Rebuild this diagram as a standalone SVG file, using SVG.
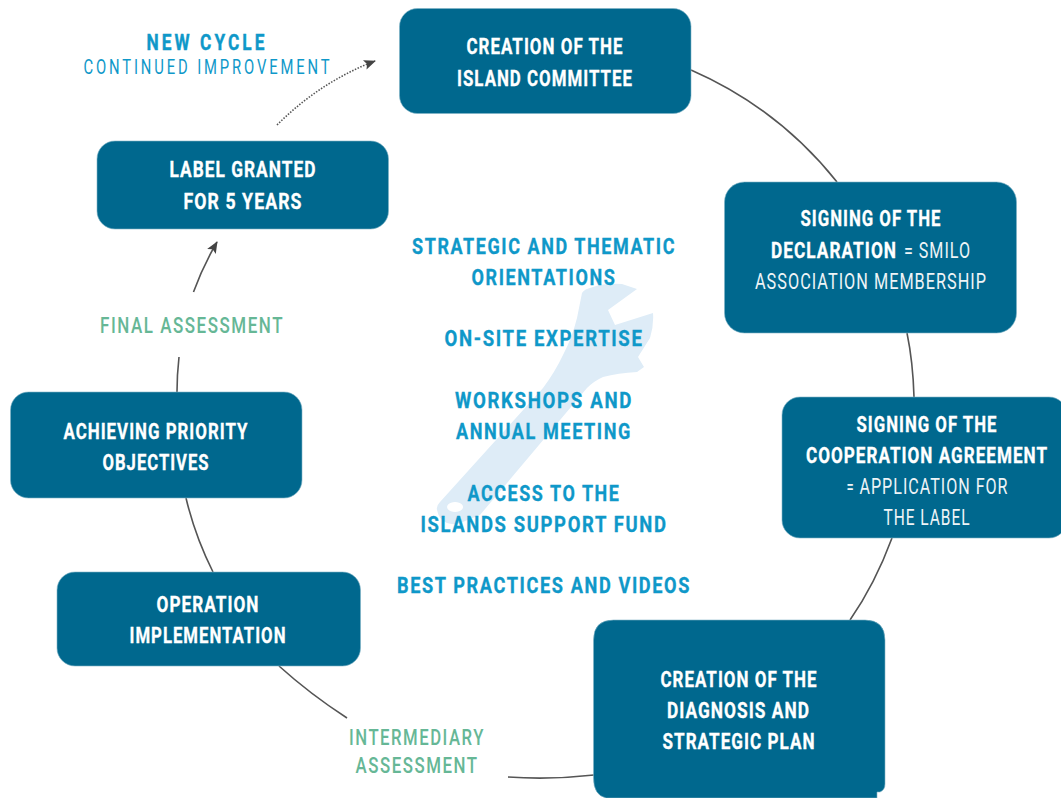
<svg xmlns="http://www.w3.org/2000/svg" width="1061" height="798" viewBox="0 0 1061 798">
<style>
text{font-family:Roboto,"Liberation Sans",sans-serif;text-anchor:middle}
.b{fill:#00688e;stroke:#7fb4c6;stroke-width:.6}
.w{fill:#fff;stroke:#fff;stroke-width:.25;font-size:16.800px;font-weight:700;letter-spacing:1px}
.l{fill:#eef4f7;font-size:16.200px;letter-spacing:1px}
.c{fill:#0f98c9;stroke:#0f98c9;stroke-width:.25;font-size:17px;font-weight:700;letter-spacing:1.500px}
.g{fill:#66b796;font-size:16.500px;font-weight:500;letter-spacing:1.500px}
.n{fill:#0f98c9;stroke:#0f98c9;stroke-width:.3;font-size:17px;font-weight:700;letter-spacing:3px}
.s{fill:#0f98c9;font-size:15.500px;letter-spacing:3px}
.k{fill:none;stroke:#555;stroke-width:1.600}
</style>
<defs><marker id="a" viewBox="0 0 12 10" refX="11" refY="5" markerWidth="12" markerHeight="10" markerUnits="userSpaceOnUse" orient="auto"><path d="M0 0L12 5L0 10L2.500 5Z" fill="#444"/></marker></defs>
<path id="wrench" fill="#deecf7" fill-rule="evenodd" d="M637 289L622 284Q605 283 593 287Q584 289 582 293L577 318Q572 338 563 355Q555 372 543 388L440 502Q436 506 437 510Q439 520 447 523Q456 526 465 521L480 515L587 388Q594 381 603 377Q618 373 637 372L644 367L638 357L650 338Q654 325 653 313L615 325L608 310ZM455 502a8 5 0 1 0 .1 0Z"/>
<g id="connectors">
<path class="k" d="M691 70Q778 108 837 182"/>
<path class="k" d="M907 333Q913 362 914 397"/>
<path class="k" d="M892 538Q875 584 850 620"/>
<path class="k" d="M594 775Q550 780 508 777"/>
<path class="k" d="M347 718Q310 694 279 666"/>
<path class="k" d="M213 572Q195 536 186 498"/>
<path class="k" d="M177 392Q177 375 179 357"/>
<path class="k" d="M193.500 292Q203 266 217 242" marker-end="url(#a)"/>
<path d="M277 125Q320 82 375 61" fill="none" stroke="#555" stroke-width="1.600" stroke-dasharray="1.500 1.500" marker-end="url(#a)"/>
</g>
<g id="wheel-labels">
<text class="n" transform="matrix(1 0 0 1.350 207 50)" textLength="121" lengthAdjust="spacingAndGlyphs">NEW CYCLE</text>
<text class="s" transform="matrix(1 0 0 1.350 208 74)" textLength="249" lengthAdjust="spacingAndGlyphs">CONTINUED IMPROVEMENT</text>
<text class="g" transform="matrix(1 0 0 1.350 192 333)" textLength="184" lengthAdjust="spacingAndGlyphs">FINAL ASSESSMENT</text>
<text class="g" transform="matrix(1 0 0 1.350 417 745)" textLength="136" lengthAdjust="spacingAndGlyphs">INTERMEDIARY</text>
<text class="g" transform="matrix(1 0 0 1.350 417 773)" textLength="123" lengthAdjust="spacingAndGlyphs">ASSESSMENT</text>
</g>
<g id="center-list">
<text class="c" transform="matrix(1 0 0 1.350 544 254)" textLength="264" lengthAdjust="spacingAndGlyphs">STRATEGIC AND THEMATIC</text>
<text class="c" transform="matrix(1 0 0 1.350 544 285)" textLength="145" lengthAdjust="spacingAndGlyphs">ORIENTATIONS</text>
<text class="c" transform="matrix(1 0 0 1.350 544 346)" textLength="199" lengthAdjust="spacingAndGlyphs">ON-SITE EXPERTISE</text>
<text class="c" transform="matrix(1 0 0 1.350 544 408)" textLength="178" lengthAdjust="spacingAndGlyphs">WORKSHOPS AND</text>
<text class="c" transform="matrix(1 0 0 1.350 544 439)" textLength="176" lengthAdjust="spacingAndGlyphs">ANNUAL MEETING</text>
<text class="c" transform="matrix(1 0 0 1.350 544 501)" textLength="153" lengthAdjust="spacingAndGlyphs">ACCESS TO THE</text>
<text class="c" transform="matrix(1 0 0 1.350 544 532)" textLength="247" lengthAdjust="spacingAndGlyphs">ISLANDS SUPPORT FUND</text>
<text class="c" transform="matrix(1 0 0 1.350 544 593)" textLength="294" lengthAdjust="spacingAndGlyphs">BEST PRACTICES AND VIDEOS</text>
</g>
<g id="node-committee"><rect class="b" x="399.500" y="8.500" width="291.500" height="105" rx="18"/>
<text class="w" transform="matrix(1 0 0 1.350 545 54)" textLength="157" lengthAdjust="spacingAndGlyphs">CREATION OF THE</text>
<text class="w" transform="matrix(1 0 0 1.350 545 85.500)" textLength="176" lengthAdjust="spacingAndGlyphs">ISLAND COMMITTEE</text></g>
<g id="node-declaration"><rect class="b" x="724.500" y="182" width="292" height="151" rx="20"/>
<text class="w" transform="matrix(1 0 0 1.350 871 226)" textLength="141" lengthAdjust="spacingAndGlyphs">SIGNING OF THE</text>
<text class="w" transform="matrix(1 0 0 1.350 834 258)" textLength="126" lengthAdjust="spacingAndGlyphs">DECLARATION</text>
<text class="l" transform="matrix(1 0 0 1.350 937.500 258)" textLength="67" lengthAdjust="spacingAndGlyphs">= SMILO</text>
<text class="l" transform="matrix(1 0 0 1.350 871 289)" textLength="232" lengthAdjust="spacingAndGlyphs">ASSOCIATION MEMBERSHIP</text></g>
<g id="node-agreement"><rect class="b" x="782" y="397" width="285" height="141" rx="18"/>
<text class="w" transform="matrix(1 0 0 1.350 927 432)" textLength="141" lengthAdjust="spacingAndGlyphs">SIGNING OF THE</text>
<text class="w" transform="matrix(1 0 0 1.350 927 463)" textLength="242" lengthAdjust="spacingAndGlyphs">COOPERATION AGREEMENT</text>
<text class="l" transform="matrix(1 0 0 1.350 934 494)" textLength="149" lengthAdjust="spacingAndGlyphs">APPLICATION FOR</text>
<text class="l" transform="matrix(1 0 0 1.350 850.500 494)" textLength="8" lengthAdjust="spacingAndGlyphs">=</text>
<text class="l" transform="matrix(1 0 0 1.350 927 525)" textLength="87" lengthAdjust="spacingAndGlyphs">THE LABEL</text></g>
<g id="node-diagnosis"><path class="b" d="M613.500 620H865Q885 620 885 640V784Q885 790 880 792H877V798H606Q593.500 795 593.500 778V640Q593.500 620 613.500 620Z"/>
<text class="w" transform="matrix(1 0 0 1.350 739 687)" textLength="157" lengthAdjust="spacingAndGlyphs">CREATION OF THE</text>
<text class="w" transform="matrix(1 0 0 1.350 738.500 717.500)" textLength="143" lengthAdjust="spacingAndGlyphs">DIAGNOSIS AND</text>
<text class="w" transform="matrix(1 0 0 1.350 739 748.500)" textLength="153" lengthAdjust="spacingAndGlyphs">STRATEGIC PLAN</text></g>
<g id="node-implementation"><rect class="b" x="57" y="572" width="303.500" height="94" rx="18"/>
<text class="w" transform="matrix(1 0 0 1.350 208 611.500)" textLength="103" lengthAdjust="spacingAndGlyphs">OPERATION</text>
<text class="w" transform="matrix(1 0 0 1.350 208 642.500)" textLength="157" lengthAdjust="spacingAndGlyphs">IMPLEMENTATION</text></g>
<g id="node-objectives"><rect class="b" x="10.500" y="392" width="291.500" height="106" rx="18"/>
<text class="w" transform="matrix(1 0 0 1.350 156 438.500)" textLength="185" lengthAdjust="spacingAndGlyphs">ACHIEVING PRIORITY</text>
<text class="w" transform="matrix(1 0 0 1.350 156 469.500)" textLength="107" lengthAdjust="spacingAndGlyphs">OBJECTIVES</text></g>
<g id="node-label"><rect class="b" x="97" y="141" width="291.500" height="88" rx="18"/>
<text class="w" transform="matrix(1 0 0 1.350 243 177)" textLength="147" lengthAdjust="spacingAndGlyphs">LABEL GRANTED</text>
<text class="w" transform="matrix(1 0 0 1.350 243 209)" textLength="119" lengthAdjust="spacingAndGlyphs">FOR 5 YEARS</text></g>
</svg>
